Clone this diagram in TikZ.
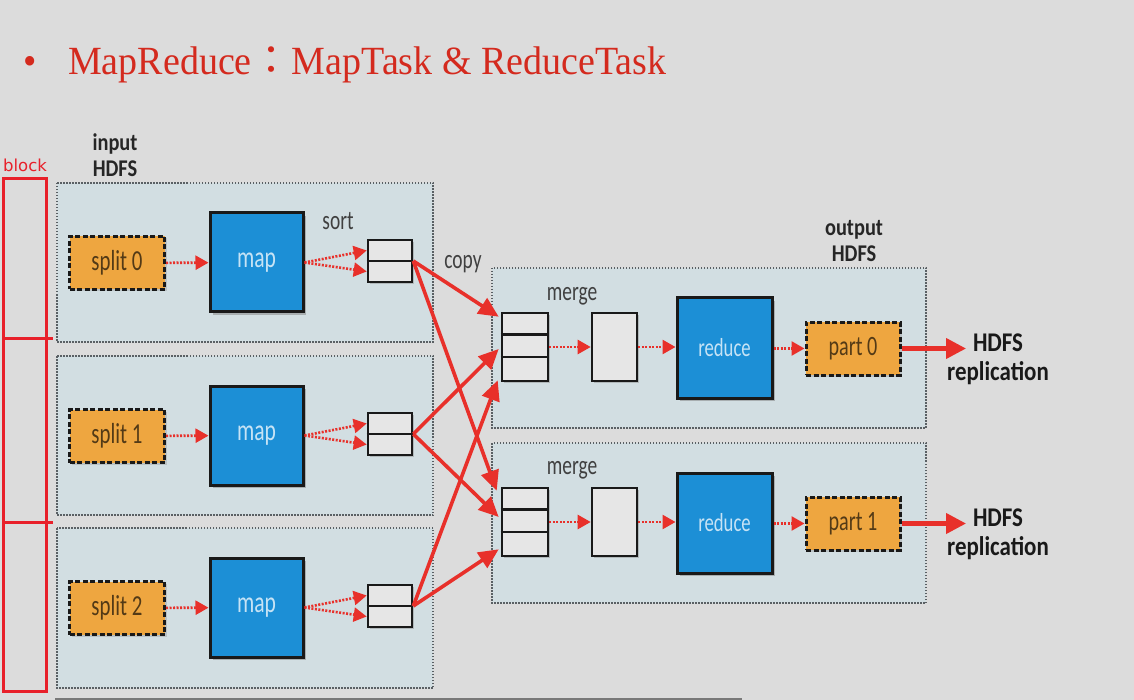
\documentclass[tikz,border=0pt]{standalone}
\usepackage{fontspec}
\setmainfont{Carlito}
\newfontfamily\cond[FakeStretch=0.72]{Carlito}
\newfontfamily\condb[FakeStretch=0.85]{Carlito}
\newfontfamily\titlefont[FakeStretch=0.95]{Liberation Serif}
\newfontfamily\cjk{Noto Sans CJK TC}
\newfontfamily\blockfont{DejaVu Sans}
\usetikzlibrary{arrows.meta,shadows,calc}
\definecolor{bg}{HTML}{DCDCDC}
\definecolor{panel}{HTML}{D2DEE2}
\definecolor{panelborder}{HTML}{5A6064}
\definecolor{orangebox}{HTML}{EEA640}
\definecolor{bluebox}{HTML}{1C8FD6}
\definecolor{bufferfill}{HTML}{E6E6E6}
\definecolor{flowred}{HTML}{E8302A}
\definecolor{titlered}{HTML}{D42A1E}
\definecolor{blockred}{HTML}{E8202A}
\tikzset{
  panelbox/.style={draw=panelborder, fill=panel, line width=1.5pt, dash pattern=on 1.5pt off 1.5pt},
  splitbox/.style={draw=black!90, fill=orangebox, line width=3pt, dash pattern=on 5pt off 2.5pt,
     minimum width=95pt, minimum height=53pt, inner sep=0pt, font=\cond\fontsize{29}{30}\selectfont, text=black!65!orangebox,
     drop shadow={shadow xshift=2pt, shadow yshift=-2pt, opacity=0.3}},
  taskbox/.style={draw=black!90, fill=bluebox, line width=3pt, minimum width=93pt, minimum height=99pt,
     inner sep=0pt, font=\cond\fontsize{30}{32}\selectfont, text=white!75!bluebox,
     drop shadow={shadow xshift=3pt, shadow yshift=-3pt, opacity=0.5}},
  bufbox/.style={draw=black!90, fill=bufferfill, line width=2.6pt, minimum width=44pt, inner sep=0pt,
     drop shadow={shadow xshift=2pt, shadow yshift=-2pt, opacity=0.4}},
  lbl/.style={font=\cond\fontsize{27}{29}\selectfont, text=black!75, inner sep=0pt},
  hdr/.style={font=\condb\bfseries\fontsize{24}{26}\selectfont, text=black!85, align=center, inner sep=0pt},
  rephdr/.style={font=\condb\bfseries\fontsize{27}{29}\selectfont, text=black!90, align=center, inner sep=0pt},
  dotarrow/.style={draw=flowred, line width=2.6pt, dash pattern=on 2pt off 1.5pt, -{Triangle[length=13pt,width=14pt]}},
  copyarrow/.style={draw=flowred, line width=3.6pt, -{Triangle[length=20pt,width=18pt]}},
  outarrow/.style={draw=flowred, line width=4.2pt, -{Triangle[length=20pt,width=20pt]}},
}
\begin{document}
\begin{tikzpicture}[x=1pt,y=-1pt]
\useasboundingbox (0,0) rectangle (1134,700);
\fill[bg] (0,0) rectangle (1134,700);

% title
\node[anchor=base west, inner sep=0pt, text=titlered, font=\titlefont\fontsize{40}{44}\selectfont] (bullet) at (23,75) {•};
\node[anchor=base west, inner sep=0pt, text=titlered, font=\titlefont\fontsize{40}{44}\selectfont] (title) at (68,75) {MapReduce{\cjk\fontsize{40}{44}\selectfont ：}MapTask \& ReduceTask};

% block marker
\node[anchor=center, inner sep=0pt, text=blockred, font=\blockfont\fontsize{16.5}{18}\selectfont] (blocklbl) at (25,165) {block};
\draw[blockred, line width=3pt] (3,179) rectangle (46,691);
\draw[blockred, line width=3pt] (3,338) -- (53,338);
\draw[blockred, line width=3pt] (3,522) -- (53,522);

% bottom line
\draw[black!45!bg, line width=2pt] (55,699) -- (742,699);

% panels
\path[panelbox] (57,183) rectangle (433,342);
\path[panelbox] (57,356) rectangle (433,515);
\path[panelbox] (57,528) rectangle (433,688);
\path[panelbox] (492,268) rectangle (926,428);
\path[panelbox] (492,443) rectangle (926,603);

% headers
\node[hdr] (inhdfs) at (115,155) {input\\HDFS};
\node[hdr] (outhdfs) at (854,241) {output\\HDFS};

% map side
\foreach \i/\y in {0/263,1/436,2/608}{
  \node[splitbox] (s\i) at (117,\y) {split \i};
  \node[taskbox] (m\i) at (256.5,\y-0.5) {map};
  \node[bufbox, minimum height=42pt] (b\i) at (390,\y-2) {};
  \draw[black!90, line width=2.6pt] (b\i.west) -- (b\i.east);
  \draw[dotarrow] (s\i) -- (m\i);
  \draw[dotarrow] (m\i.east) -- ($(b\i.west)+(0,-10.5)$);
  \draw[dotarrow] (m\i.east) -- ($(b\i.west)+(0,10.5)$);
}
\node[lbl] (sortlbl) at (338,221) {sort};
\node[lbl] (copylbl) at (463,264) {copy};

% reduce side
\foreach \i/\y in {0/347,1/522}{
  \node[bufbox, minimum width=46pt, minimum height=68pt] (mb\i) at (525,\y) {};
  \draw[black!90, line width=2.6pt] ($(mb\i.north west)+(0,22.7)$) -- ($(mb\i.north east)+(0,22.7)$);
  \draw[black!90, line width=2.6pt] ($(mb\i.north west)+(0,45.3)$) -- ($(mb\i.north east)+(0,45.3)$);
  \node[bufbox, minimum width=45pt, minimum height=68pt] (mg\i) at (614.5,\y) {};
  \node[taskbox, minimum width=95pt, minimum height=100pt, font=\cond\fontsize{26}{28}\selectfont] (r\i) at (724.5,\y+1) {reduce};
  \node[splitbox, minimum width=94pt, font=\cond\fontsize{28}{30}\selectfont] (p\i) at (853,\y+1.5) {part \i};
  \coordinate (h\i) at (966,\y+1.5);
  \node[rephdr, anchor=north] (rep\i) at (998,\y-13) {HDFS\\replication};
  \draw[dotarrow] (mb\i) -- (mg\i);
  \draw[dotarrow] (mg\i) -- (r\i.west |- mg\i);
  \draw[dotarrow] (r\i.east |- p\i) -- (p\i);
  \draw[outarrow] (p\i) -- (h\i);
}
\node[lbl] (merge0) at (572,296) {merge};
\node[lbl] (merge1) at (572,470) {merge};

% copy arrows
\draw[copyarrow] (b0.east) -- ($(mb0.north west)+(-2,5)$);
\draw[copyarrow] (b0.east) -- ($(mb1.north west)+(-4,4)$);
\draw[copyarrow] (b1.east) -- ($(mb0.west)+(-2,2)$);
\draw[copyarrow] (b1.east) -- ($(mb1.west)+(-2,-5)$);
\draw[copyarrow] (b2.east) -- ($(mb0.south west)+(-3,-2)$);
\draw[copyarrow] (b2.east) -- ($(mb1.south west)+(-2,-8)$);
\end{tikzpicture}
\end{document}
